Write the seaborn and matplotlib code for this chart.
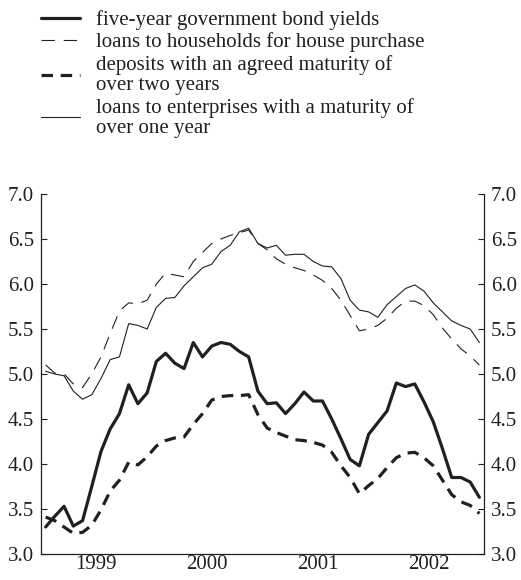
import numpy as np
import matplotlib
matplotlib.use('Agg')
import matplotlib.pyplot as plt
import seaborn as sns

# monthly data, Jan 1999 - Dec 2002 (per cent)
years = ['1999', '2000', '2001', '2002']
months = np.arange(48) + 0.5

bond_yields = [3.30, 3.42, 3.53, 3.31, 3.37, 3.75, 4.14, 4.39, 4.56, 4.88, 4.67, 4.79,
               5.14, 5.23, 5.12, 5.06, 5.35, 5.19, 5.31, 5.35, 5.33, 5.25, 5.19, 4.81,
               4.67, 4.68, 4.56, 4.67, 4.80, 4.70, 4.70, 4.50, 4.28, 4.05, 3.98, 4.33,
               4.46, 4.59, 4.90, 4.86, 4.89, 4.69, 4.47, 4.17, 3.85, 3.85, 3.80, 3.63]

house_loans = [5.10, 5.01, 5.00, 4.89, 4.85, 5.00, 5.19, 5.45, 5.70, 5.79, 5.78, 5.82,
               6.00, 6.12, 6.10, 6.08, 6.25, 6.35, 6.45, 6.50, 6.54, 6.57, 6.60, 6.45,
               6.38, 6.28, 6.22, 6.18, 6.15, 6.10, 6.04, 5.95, 5.82, 5.65, 5.48, 5.50,
               5.54, 5.62, 5.73, 5.81, 5.81, 5.76, 5.66, 5.51, 5.39, 5.28, 5.20, 5.10]

deposits = [3.41, 3.37, 3.30, 3.23, 3.24, 3.32, 3.49, 3.70, 3.82, 4.02, 3.99, 4.08,
            4.20, 4.26, 4.29, 4.30, 4.44, 4.56, 4.71, 4.75, 4.76, 4.76, 4.77, 4.55,
            4.40, 4.35, 4.31, 4.27, 4.26, 4.24, 4.21, 4.13, 3.98, 3.85, 3.67, 3.76,
            3.84, 3.96, 4.07, 4.12, 4.13, 4.07, 3.98, 3.82, 3.66, 3.58, 3.54, 3.45]

enterprise_loans = [5.03, 5.00, 4.98, 4.81, 4.72, 4.77, 4.95, 5.16, 5.19, 5.56, 5.54, 5.50,
                    5.74, 5.84, 5.85, 5.98, 6.08, 6.18, 6.22, 6.36, 6.43, 6.58, 6.62, 6.45,
                    6.40, 6.43, 6.32, 6.33, 6.33, 6.25, 6.20, 6.19, 6.06, 5.82, 5.71, 5.69,
                    5.63, 5.77, 5.86, 5.95, 5.99, 5.92, 5.79, 5.69, 5.59, 5.54, 5.50, 5.35]

labels = ['five-year government bond yields',
          'loans to households for house purchase',
          'deposits with an agreed maturity of\nover two years',
          'loans to enterprises with a maturity of\nover one year']

sns.set_theme(style='white')
plt.rcParams['font.family'] = ['Liberation Serif', 'DejaVu Serif']
ink = '#231f20'
fs = 15

fig = plt.figure(figsize=(5.21, 5.8), dpi=100)
ax = fig.add_axes([41 / 521, 1 - 554 / 580, (484 - 41) / 521, (554 - 194) / 580])

sns.lineplot(x=months, y=bond_yields, ax=ax, color=ink, lw=2.3, label=labels[0])
sns.lineplot(x=months, y=house_loans, ax=ax, color=ink, lw=0.8,
             linestyle=(0, (12, 8)), label=labels[1])
sns.lineplot(x=months, y=deposits, ax=ax, color=ink, lw=2.3,
             linestyle=(0, (3.6, 2.4)), label=labels[2])
sns.lineplot(x=months, y=enterprise_loans, ax=ax, color=ink, lw=0.8, label=labels[3])

ax.set_xlim(0, 48)
ax.set_ylim(3.0, 7.0)
ax.set_yticks(np.arange(3.0, 7.01, 0.5))
ax.set_yticklabels([f'{v:.1f}' for v in np.arange(3.0, 7.01, 0.5)])

# year boundaries as major ticks, quarters as minor ticks with year names mid-year
ax.set_xticks([12, 24, 36], labels=['', '', ''])
minor_pos = [q for q in range(3, 48, 3) if q % 12 != 0]
minor_lab = [years[q // 12] if q % 12 == 6 else '' for q in minor_pos]
ax.set_xticks(minor_pos, labels=minor_lab, minor=True)

ax.tick_params(axis='x', which='major', direction='in', length=7, width=0.8, color=ink)
ax.tick_params(axis='x', which='minor', direction='in', length=4, width=0.8, color=ink,
               labelsize=fs, labelcolor=ink, pad=1)
ax.tick_params(axis='y', direction='in', length=4, width=0.8, color=ink,
               labelsize=fs, labelcolor=ink, left=True, right=True,
               labelleft=True, labelright=True, pad=5)
ax.set_xlabel('')
ax.set_ylabel('')

for side in ['left', 'right', 'bottom']:
    ax.spines[side].set_color(ink)
    ax.spines[side].set_linewidth(0.9)
ax.spines['top'].set_visible(False)

handles, labs = ax.get_legend_handles_labels()
ax.legend_.remove()
leg = fig.legend(handles, labs, loc='upper left', bbox_to_anchor=(41 / 521, 1 - 10 / 580),
                 frameon=False, fontsize=fs, handlelength=1.85, handletextpad=0.8,
                 labelspacing=0.12, borderpad=0, borderaxespad=0)
for t in leg.get_texts():
    t.set_color(ink)
    t.set_linespacing(1.1)

fig.savefig('out.png', dpi=100)
